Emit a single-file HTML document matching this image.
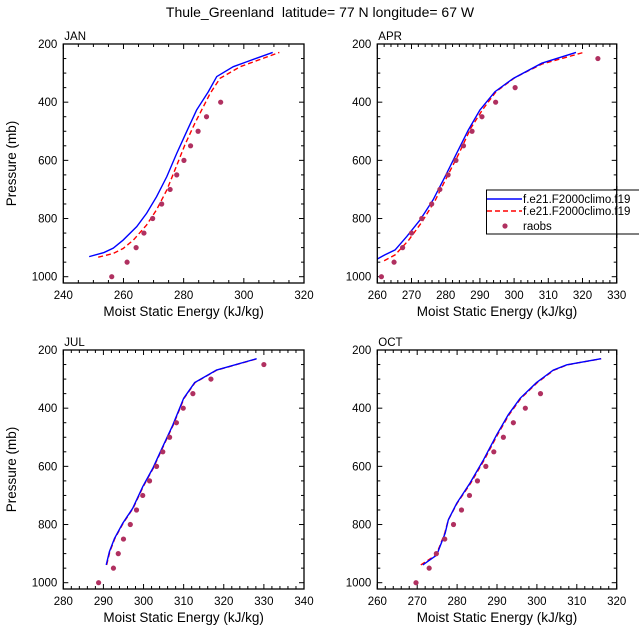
<!DOCTYPE html>
<html><head><meta charset="utf-8"><style>
body{margin:0;background:#fff}
svg{display:block;font-family:"Liberation Sans",sans-serif}
</style></head><body>
<svg id="c" width="639" height="639" viewBox="0 0 639 639">
<text x="320" y="17" text-anchor="middle" font-size="14" style="white-space:pre">Thule_Greenland  latitude= 77 N longitude= 67 W</text>
</svg>
<script>
// ---- data ----
const janBlueX=[248.6,253.5,256.6,259.9,264.4,267.7,271,274.4,277.7,281,284.3,288.2,291,296.5,301,309.6];
const janBlueP=[931,917,902,874,828,782,725,656,576,501,427,364,312,278,261,229];
const janRedX=[251.6,256.6,259.9,263.3,267.7,271,274.4,277.1,280.4,283.7,288.8,292.1,298.8,306.5,311.8];
const janRedP=[933,920,903,874,822,770,702,633,547,473,370,318,278,249,229];
const janObsX=[256.1,261.2,264.2,266.8,269.7,272.7,275.5,277.7,280.1,282.3,284.8,287.6,292.3];
const janObsP=[1000,950,900,850,800,750,700,650,600,550,500,450,400];
const aprBlueX=[260,262.2,265.2,268.6,272.5,276.3,279.8,283.2,286.6,290,294.4,299.8,308.1,318.1];
const aprBlueP=[939,925,908,862,805,736,656,576,496,427,364,318,266,229];
const aprRedX=[262,265.2,269.2,273.1,277,280.4,283.9,287.3,290.7,294.7,300.3,308.1,320.3];
const aprRedP=[945,925,874,811,736,656,576,490,427,364,315,269,229];
const aprObsX=[261.2,264.9,267.4,270,273,275.9,278.3,280.7,283,285.2,287.7,290.6,294.6,300.3,324.5];
const aprObsP=[1000,950,900,850,800,750,700,650,600,550,500,450,400,350,250];
const julBlueX=[290.7,291.5,292.75,294.8,297.3,299.8,302.3,304.8,307.3,310,312.75,318.2,328.2];
const julBlueP=[939,893,848,796,744,670,607,532,458,366,312,269,230];
const julRedX=[290.8,291.6,292.85,294.9,297.4,299.9,302.4,304.9,307.4,310.1,312.85,318.3,328.3];
const julRedP=[939,893,848,796,744,670,607,532,458,366,312,269,230];
const julObsX=[288.8,292.5,293.7,295,296.7,298.25,299.8,301.5,303.25,304.8,306.5,308.2,309.9,312.3,316.8,330];
const julObsP=[1000,950,900,850,800,750,700,650,600,550,500,450,400,350,300,250];
const octBlueX=[271.4,274.9,275.7,277,277.8,279.9,283.2,286.6,289.9,292.8,295.8,299.9,304.1,307.5,316.1];
const octBlueP=[939,905,876,830,784,727,658,578,492,423,366,312,269,251,230];
const octRedX=[270.9,274.7,275.6,276.9,277.8,280,283.4,286.8,290.1,293,296,300.1,304.3,307.6,316.1];
const octRedP=[939,905,876,830,784,727,658,578,492,423,366,312,269,251,230];
const octObsX=[269.7,273,274.8,276.9,279.1,281.1,283.1,285.1,287.2,289.2,291.6,294.1,297.1,300.9];
const octObsP=[1000,950,900,850,800,750,700,650,600,550,500,450,400,350];
const yTicks=[200,400,600,800,1000];
const janXTicks=[240,260,280,300,320];
const aprXTicks=[260,270,280,290,300,310,320,330];
const julXTicks=[280,290,300,310,320,330,340];
const octXTicks=[260,270,280,290,300,310,320];

const NS='http://www.w3.org/2000/svg';
const svg=document.getElementById('c');
function mk(tag,attrs,parent){const e=document.createElementNS(NS,tag);for(const k in attrs)e.setAttribute(k,attrs[k]);(parent||svg).appendChild(e);return e;}

function panel(o){
  const g=mk('g',{});
  
  
  const L=o.x0,R=o.x1,T=o.top,B=o.top+239;
  const sx=v=>L+(v-o.xmin)/(o.xmax-o.xmin)*(R-L);
  const sy=p=>T+(p-200)*(232.7/800);
  for(let v=o.xmin;v<=o.xmax+1e-6;v+=o.minor){
    const major=o.xt.some(t=>Math.abs(t-v)<1e-6);const len=major?5:3;
    mk('line',{x1:sx(v),x2:sx(v),y1:B,y2:B-len,stroke:'#000','stroke-width':1},g);
    mk('line',{x1:sx(v),x2:sx(v),y1:T,y2:T+len,stroke:'#000','stroke-width':1},g);
  }
  for(let p=200;p<=1000;p+=50){
    const major=p%200===0;const len=major?5:3;
    mk('line',{x1:L,x2:L+len,y1:sy(p),y2:sy(p),stroke:'#000','stroke-width':1},g);
    mk('line',{x1:R,x2:R-len,y1:sy(p),y2:sy(p),stroke:'#000','stroke-width':1},g);
  }
  o.xt.forEach(v=>{const t=mk('text',{x:sx(v),y:B+16,'text-anchor':'middle','font-size':11.5},g);t.textContent=v;
    
    });
  yTicks.forEach(p=>{const t=mk('text',{x:L-6,y:sy(p)+4,'text-anchor':'end','font-size':11.5},g);t.textContent=p;
    
    });
  const xt=mk('text',{x:(L+R)/2,y:B+33,'text-anchor':'middle','font-size':13.5},g);xt.textContent='Moist Static Energy (kJ/kg)';
  
  
  if(o.ylab){const yt=mk('text',{x:0,y:0,'text-anchor':'middle','font-size':13.5,transform:`translate(16,${(T+B)/2}) rotate(-90)`},g);yt.textContent='Pressure (mb)';
    
    }
  const lb=mk('text',{x:L+1,y:T-4,'font-size':11.5},g);lb.textContent=o.name.toUpperCase();
  
  
  const line=(X,P,col,dash,nm)=>{const pl=mk('polyline',{points:X.map((x,i)=>sx(x)+','+sy(P[i])).join(' '),fill:'none',stroke:col,'stroke-width':1.4,'stroke-dasharray':dash},g);
    
    };
  line(o.rx,o.rp,'#ff0000','5,3','model-red-line');
  line(o.bx,o.bp,'#0000ff','none','model-blue-line');
  o.ox.forEach((x,i)=>{const c=mk('circle',{cx:sx(x),cy:sy(o.op[i]),r:2.6,fill:'#b03060'},g);
    
    });
  const fr=mk('rect',{x:L,y:T,width:R-L,height:B-T,fill:'none',stroke:'#000','stroke-width':1.3},g);
  
  
}
panel({name:'jan',x0:63.3,x1:304,top:44,xmin:240,xmax:320,minor:5,xt:janXTicks,ylab:true,bx:janBlueX,bp:janBlueP,rx:janRedX,rp:janRedP,ox:janObsX,op:janObsP});
panel({name:'apr',x0:377.3,x1:616.7,top:44,xmin:260,xmax:330,minor:2,xt:aprXTicks,ylab:false,bx:aprBlueX,bp:aprBlueP,rx:aprRedX,rp:aprRedP,ox:aprObsX,op:aprObsP});
panel({name:'jul',x0:63.3,x1:304,top:350,xmin:280,xmax:340,minor:2,xt:julXTicks,ylab:true,bx:julBlueX,bp:julBlueP,rx:julRedX,rp:julRedP,ox:julObsX,op:julObsP});
panel({name:'oct',x0:377.3,x1:616.7,top:350,xmin:260,xmax:320,minor:2,xt:octXTicks,ylab:false,bx:octBlueX,bp:octBlueP,rx:octRedX,rp:octRedP,ox:octObsX,op:octObsP});
const lg=mk('g',{});


mk('rect',{x:486.5,y:190,width:160,height:44,fill:'#fff',stroke:'#000','stroke-width':1},lg);
mk('line',{x1:487,x2:522,y1:199,y2:199,stroke:'#0000ff','stroke-width':1.4},lg);
mk('line',{x1:487,x2:522,y1:211,y2:211,stroke:'#ff0000','stroke-width':1.4,'stroke-dasharray':'5,3'},lg);
mk('circle',{cx:505,cy:226,r:2.6,fill:'#b03060'},lg);
[['f.e21.F2000climo.f19',203,'legend-entry-blue'],['f.e21.F2000climo.f19',215,'legend-entry-red'],['raobs',230,'legend-entry-raobs']].forEach(a=>{
  const t=mk('text',{x:523,y:a[1],'font-size':11.5},lg);t.textContent=a[0];
  
  });
mk('line',{x1:616.7,x2:616.7,y1:186,y2:238,stroke:'#000','stroke-width':1.3},lg);
</script>
</body></html>
